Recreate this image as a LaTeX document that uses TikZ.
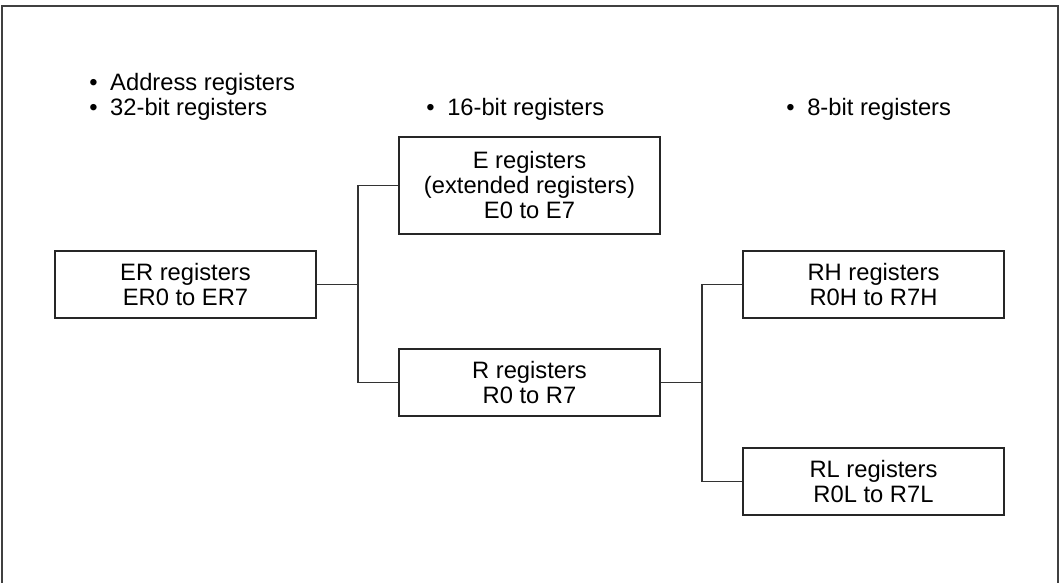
\documentclass[tikz,border=0pt]{standalone}
\usepackage{fontspec}
\setmainfont{Liberation Sans}
\begin{document}
\begin{tikzpicture}[x=0.75pt,y=-0.75pt,
  regbox/.style={draw=black!85,line width=1.1pt,minimum width=195.75pt,inner sep=0pt,align=center,font=\fontsize{17.8}{18.75}\selectfont},
  hdr/.style={anchor=base west,inner sep=0pt,font=\fontsize{17.8}{18.75}\selectfont},
  conn/.style={draw=black!80,line width=0.8pt}]
\useasboundingbox (0,0) rectangle (1063,582);
\draw[draw=black!75,line width=1.5pt] (2,590) -- (2,6) -- (1058,6) -- (1058,590);
\newcommand{\bul}{\makebox[0pt][r]{\textbullet\hspace{9.5pt}}}
\node[hdr] (h1) at (110,90) {\bul Address registers};
\node[hdr] (h2) at (110,115) {\bul 32-bit registers};
\node[hdr] (h3) at (447,115) {\bul 16-bit registers};
\node[hdr] (h4) at (807,115) {\bul 8-bit registers};
\node[regbox,minimum height=50.25pt] (er) at (185.5,284.5) {ER registers\\ER0 to ER7};
\node[regbox,minimum height=72.75pt] (e) at (529.5,185.5) {E registers\\(extended registers)\\E0 to E7};
\node[regbox,minimum height=50.25pt] (r) at (529.5,382.5) {R registers\\R0 to R7};
\node[regbox,minimum height=50.25pt] (rh) at (873.5,284.5) {RH registers\\R0H to R7H};
\node[regbox,minimum height=50.25pt] (rl) at (873.5,481.5) {RL registers\\R0L to R7L};
\coordinate (j1) at (358,0);
\coordinate (j2) at (702,0);
\draw[conn] (er.east) -- (er.east -| j1);
\draw[conn] (e.west) -| (j1 |- r.west) -- (r.west);
\draw[conn] (r.east) -- (r.east -| j2);
\draw[conn] (rh.west) -| (j2 |- rl.west) -- (rl.west);
\end{tikzpicture}
\end{document}
